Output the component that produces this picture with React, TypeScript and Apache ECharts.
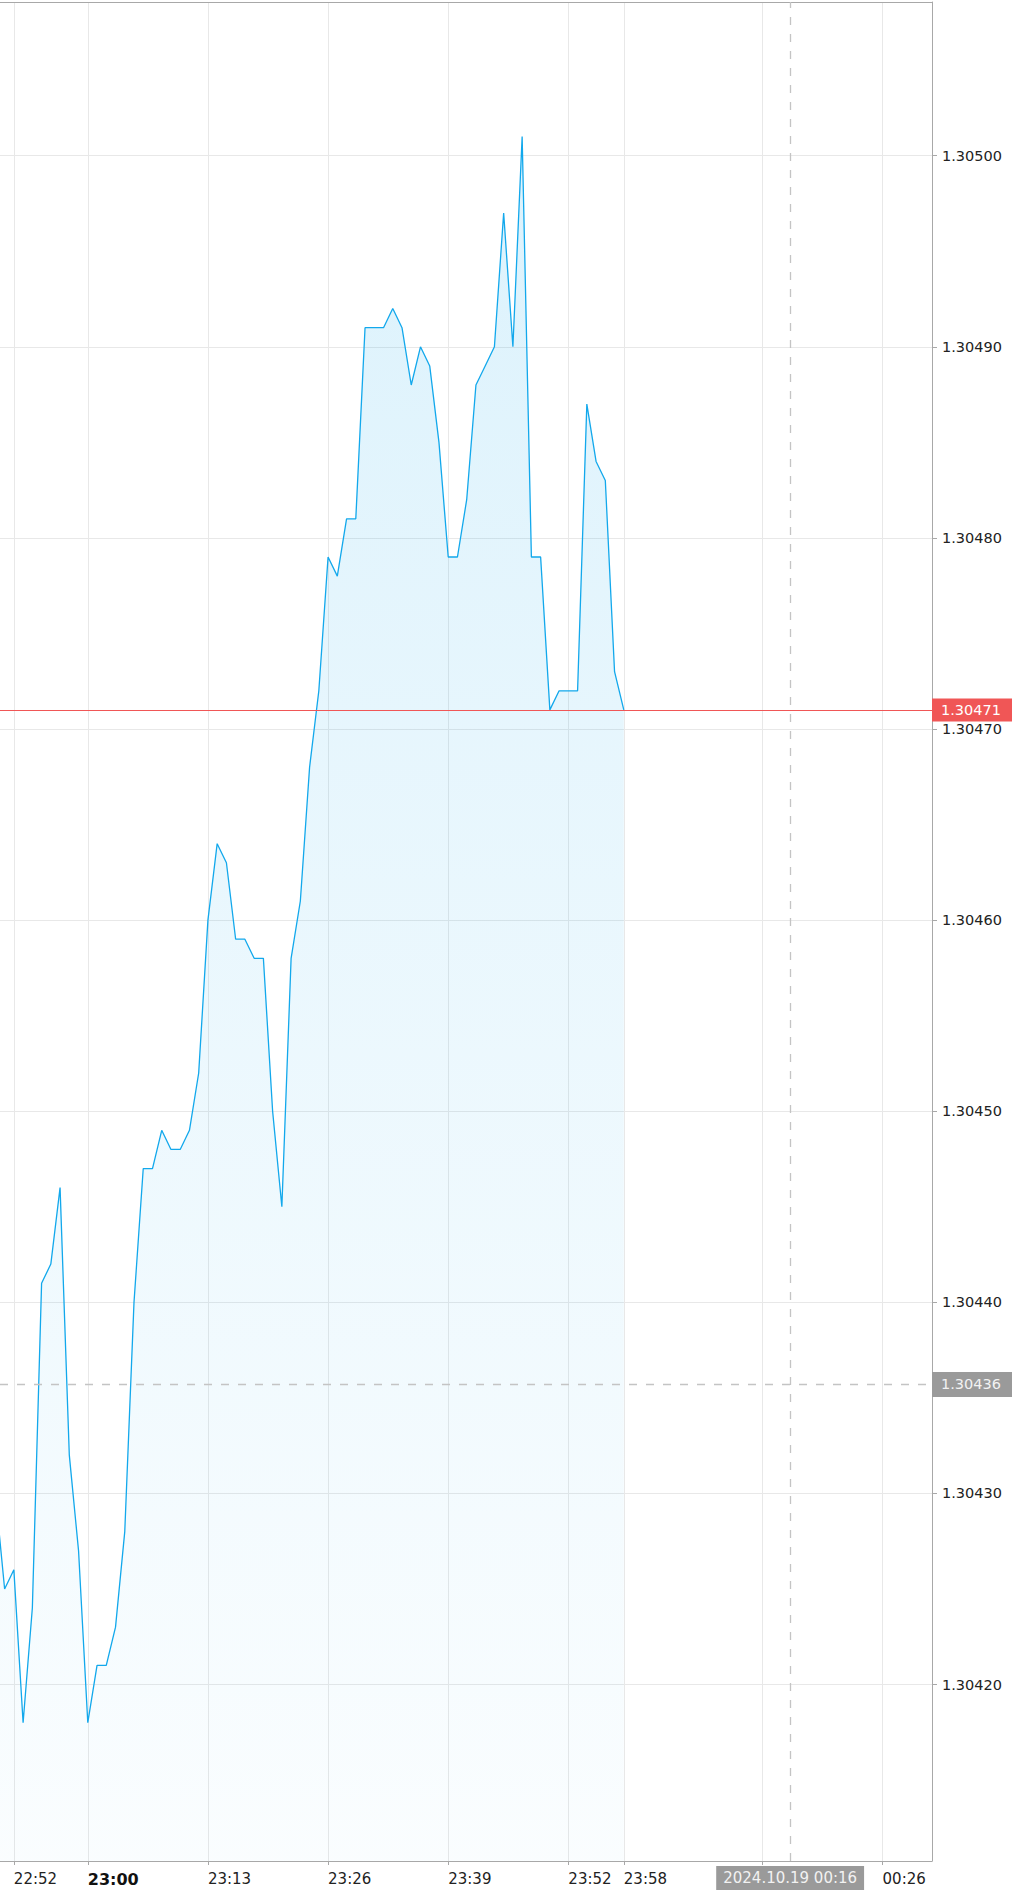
import React, { useEffect, useRef } from 'react';
import * as echarts from 'echarts';

// ---- data ----
const times = [
  '22:50', '22:51', '22:52', '22:53', '22:54', '22:55', '22:56', '22:57', '22:58', '22:59',
  '23:00', '23:01', '23:02', '23:03', '23:04', '23:05', '23:06', '23:07', '23:08', '23:09',
  '23:10', '23:11', '23:12', '23:13', '23:14', '23:15', '23:16', '23:17', '23:18', '23:19',
  '23:20', '23:21', '23:22', '23:23', '23:24', '23:25', '23:26', '23:27', '23:28', '23:29',
  '23:30', '23:31', '23:32', '23:33', '23:34', '23:35', '23:36', '23:37', '23:38', '23:39',
  '23:40', '23:41', '23:42', '23:43', '23:44', '23:45', '23:46', '23:47', '23:48', '23:49',
  '23:50', '23:51', '23:52', '23:53', '23:54', '23:55', '23:56', '23:57', '23:58',
];
const prices = [
  1.3043, 1.30425, 1.30426, 1.30418, 1.30424, 1.30441, 1.30442, 1.30446, 1.30432, 1.30427,
  1.30418, 1.30421, 1.30421, 1.30423, 1.30428, 1.3044, 1.30447, 1.30447, 1.30449, 1.30448,
  1.30448, 1.30449, 1.30452, 1.3046, 1.30464, 1.30463, 1.30459, 1.30459, 1.30458, 1.30458,
  1.3045, 1.30445, 1.30458, 1.30461, 1.30468, 1.30472, 1.30479, 1.30478, 1.30481, 1.30481,
  1.30491, 1.30491, 1.30491, 1.30492, 1.30491, 1.30488, 1.3049, 1.30489, 1.30485, 1.30479,
  1.30479, 1.30482, 1.30488, 1.30489, 1.3049, 1.30497, 1.3049, 1.30501, 1.30479, 1.30479,
  1.30471, 1.30472, 1.30472, 1.30472, 1.30487, 1.30484, 1.30483, 1.30473, 1.30471,
];
const xTickTimes = ['22:52', '23:00', '23:13', '23:26', '23:39', '23:52', '23:58', '00:13', '00:26'];
const xLabelTimes = ['22:52', '23:00', '23:13', '23:26', '23:39', '23:52', '23:58', '00:26'];
const boldTimes = ['23:00'];
const yTickValues = [1.3042, 1.3043, 1.3044, 1.3045, 1.3046, 1.3047, 1.3048, 1.3049, 1.305];
const lastPrice = 1.30471;
const crosshairPrice = 1.304357;
const crosshairDate = '2024.10.19';
const crosshairTime = '00:16';
const viewStart = '22:50:30';
const viewEnd = '00:31:21';
const priceMin = 1.30410764;
const priceMax = 1.30508043;

// minutes relative to 23:00 (times after midnight wrap forward)
function toMin(t: string): number {
  const parts = t.split(':').map(Number);
  let v = parts[0] * 60 + parts[1] + (parts[2] || 0) / 60 - 23 * 60;
  if (v < -120) v += 1440;
  return v;
}

const FONT = 'DejaVu Sans';

export default function App() {
  const ref = useRef<HTMLDivElement>(null);
  useEffect(() => {
    document.body.style.margin = '0';
    if (!ref.current) return;
    const chart = echarts.init(ref.current, undefined, { renderer: 'svg' });
    const data = times.map((t, i) => [toMin(t), prices[i]]);
    const xLabelMins = xLabelTimes.map(toMin);
    const x0 = toMin(viewStart);
    const x1 = toMin(viewEnd);
    const labelFor = (v: number) => {
      const idx = xLabelMins.findIndex((m) => Math.abs(m - v) < 1e-6);
      if (idx < 0) return '';
      const s = xLabelTimes[idx];
      return boldTimes.includes(s) ? '{b|' + s + '}' : s;
    };
    const hLine = (price: number, lineStyle: any, label: any) => [
      { coord: [x0, price], lineStyle, label },
      { coord: [x1, price] },
    ];
    const option: any = {
      animation: false,
      backgroundColor: '#ffffff',
      textStyle: { fontFamily: FONT },
      grid: { left: 0, right: 80, top: 2, bottom: 33, containLabel: false, outerBoundsMode: 'none' },
      xAxis: [
        {
          type: 'value',
          position: 'bottom',
          min: x0,
          max: x1,
          axisLine: { show: true, onZero: false, lineStyle: { color: '#a8a8a8', width: 1 } },
          axisTick: { show: true, length: 4, customValues: xTickTimes.map(toMin), lineStyle: { color: '#a8a8a8' } },
          axisLabel: {
            show: true,
            customValues: xLabelMins,
            formatter: (v: number) => labelFor(v),
            align: 'left',
            margin: 10,
            fontFamily: FONT,
            fontSize: 15,
            color: '#222222',
            rich: { b: { fontFamily: FONT, fontSize: 16, fontWeight: 'bold', color: '#111111' } },
          },
          splitLine: { show: true, lineStyle: { color: '#e8e8e8', width: 1 } },
        },
        {
          type: 'value',
          position: 'top',
          min: x0,
          max: x1,
          axisLine: { show: true, onZero: false, lineStyle: { color: '#a8a8a8', width: 1 } },
          axisTick: { show: false },
          axisLabel: { show: false },
          splitLine: { show: false },
        },
      ],
      yAxis: {
        type: 'value',
        position: 'right',
        min: priceMin,
        max: priceMax,
        axisLine: { show: true, onZero: false, lineStyle: { color: '#a8a8a8', width: 1 } },
        axisTick: { show: true, length: 5, customValues: yTickValues, lineStyle: { color: '#a8a8a8' } },
        axisLabel: {
          show: true,
          customValues: yTickValues,
          formatter: (v: number) => v.toFixed(5),
          margin: 10,
          fontFamily: FONT,
          fontSize: 14.5,
          color: '#222222',
        },
        splitLine: { show: true, lineStyle: { color: '#e8e8e8', width: 1 } },
      },
      series: [
        {
          type: 'line',
          data,
          xAxisIndex: 0,
          showSymbol: false,
          symbol: 'none',
          clip: true,
          lineStyle: { color: '#12a8ec', width: 1.3 },
          itemStyle: { color: '#12a8ec' },
          areaStyle: {
            color: new echarts.graphic.LinearGradient(0, 0, 0, 1, [
              { offset: 0, color: 'rgba(18,168,236,0.21)' },
              { offset: 1, color: 'rgba(18,168,236,0.03)' },
            ]),
          },
          markLine: {
            silent: true,
            symbol: 'none',
            animation: false,
            data: [
              hLine(
                crosshairPrice,
                { color: '#c4c4c4', type: [8, 9], width: 1.3 },
                {
                  show: true,
                  position: 'end',
                  distance: 0,
                  formatter: crosshairPrice.toFixed(5),
                  backgroundColor: '#9a9a9a',
                  color: '#f2f2f2',
                  fontFamily: FONT,
                  fontSize: 14.5,
                  padding: [5, 30, 5, 9],
                }
              ),
              {
                xAxis: toMin(crosshairTime),
                lineStyle: { color: '#c4c4c4', type: [8, 9], width: 1.3 },
                label: {
                  show: true,
                  position: 'start',
                  distance: 5,
                  formatter: crosshairDate + ' ' + crosshairTime,
                  backgroundColor: '#9a9a9a',
                  color: '#f2f2f2',
                  fontFamily: FONT,
                  fontSize: 15,
                  padding: [4, 7, 5, 7],
                },
              },
              hLine(
                lastPrice,
                { color: '#f05656', type: 'solid', width: 1.2 },
                {
                  show: true,
                  position: 'end',
                  distance: 0,
                  formatter: lastPrice.toFixed(5),
                  backgroundColor: '#f05656',
                  color: '#ffffff',
                  fontFamily: FONT,
                  fontSize: 14.5,
                  padding: [4, 30, 4, 9],
                }
              ),
            ],
          },
        },
      ],
    };
    chart.setOption(option);
    return () => chart.dispose();
  }, []);
  return <div ref={ref} style={{ width: 1012, height: 1894 }} />;
}
